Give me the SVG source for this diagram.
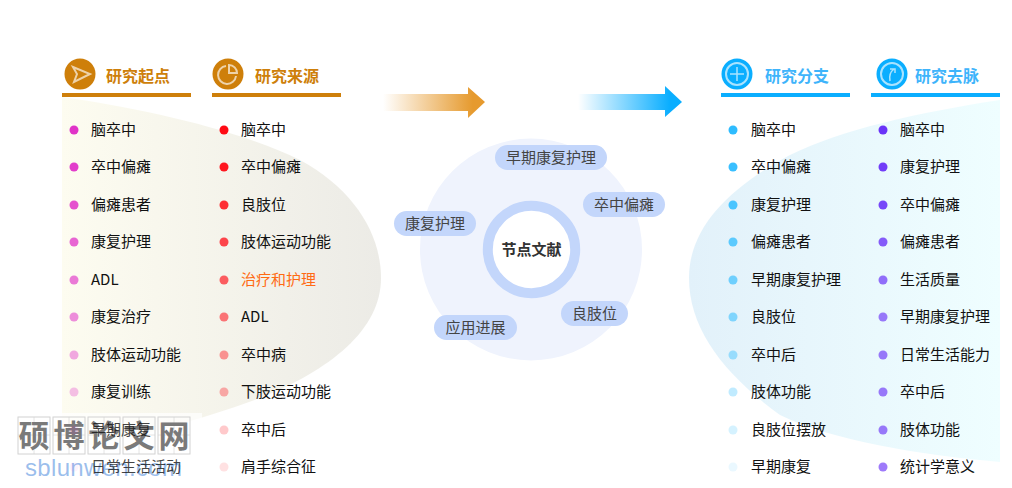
<svg xmlns="http://www.w3.org/2000/svg" width="1012" height="488" viewBox="0 0 1012 488">
<style>
text{font-family:"Noto Sans CJK SC","Liberation Sans",sans-serif}
.i{font-size:15px;fill:#111}
.f{fill-opacity:.8}
.h{font-size:16px;font-weight:700}
.o{fill:#ce7f0a}.b{fill:#3eb4fb}
.t{font-size:15px;fill:#444;text-anchor:middle}
.p{fill:#c3d6fb}
.ic{fill:none;stroke:#fff;stroke-opacity:.65;stroke-width:2}
.wb{fill:none;stroke:#d2d2d2;stroke-width:1}
.wt{font-size:31px;font-weight:700;fill:#7a7a7a;text-anchor:middle}
circle[r="4"]{r:4.500px}
</style>
<defs>
<linearGradient id="gl" x1="0" x2="1"><stop offset="0" stop-color="#fdfcf0"/><stop offset="1" stop-color="#ecebe6"/></linearGradient>
<linearGradient id="gr" x1="0" x2="1"><stop offset="0" stop-color="#e2f1fa"/><stop offset="1" stop-color="#effeff"/></linearGradient>
<linearGradient id="a1" x1="0" x2="1"><stop offset="0" stop-color="#e69a2e" stop-opacity="0"/><stop offset=".88" stop-color="#e69a2e"/></linearGradient>
<linearGradient id="a2" x1="0" x2="1"><stop offset="0" stop-color="#0aaeff" stop-opacity="0"/><stop offset=".88" stop-color="#0aaeff"/></linearGradient>
</defs>
<rect width="1012" height="488" fill="#fff"/>
<g id="backgrounds">
<path d="M62 97C140 108 240 130 300 160C355 190 381 235 381 278C381 330 330 370 260 398C200 420 130 440 62 450Z" fill="url(#gl)"/>
<path d="M1000 100C920 112 840 130 790 155C725 190 689 230 689 278C689 330 725 375 780 415C830 440 920 455 1000 462Z" fill="url(#gr)"/>
</g>
<g id="watermark">
<rect x="0" y="413" width="202" height="75" fill="#fff" fill-opacity=".7"/>
<rect x="18" y="417" width="32" height="37" class="wb"/><rect x="53" y="417" width="32" height="37" class="wb"/><rect x="88" y="417" width="32" height="37" class="wb"/><rect x="123" y="417" width="32" height="37" class="wb"/><rect x="158" y="417" width="32" height="37" class="wb"/>
<path class="wb" d="M18 435H50M34 417V454M53 435H85M69 417V454M88 435H120M104 417V454M123 435H155M139 417V454M158 435H190M174 417V454" stroke-opacity=".6"/>
<text x="34" y="447" class="wt">硕</text><text x="69" y="447" class="wt">博</text><text x="104" y="447" class="wt">论</text><text x="139" y="447" class="wt">文</text><text x="174" y="447" class="wt">网</text>
<text x="25" y="476" textLength="157" style="font-family:'Liberation Sans',sans-serif;font-size:24px;fill:#7aa9e6;fill-opacity:.75">sblunwen.com</text>
</g>
<g id="col-start">
<circle cx="80" cy="74" r="15.500" class="o"/>
<path class="ic" d="M73 67L90 74L74 82L77 74Z"/>
<text x="106" y="82" class="h o">研究起点</text>
<rect x="62" y="93" width="129" height="4" class="o"/>
<g fill="#e033c8">
<circle cx="74" cy="130" r="4"/><circle cx="74" cy="167" r="4" opacity=".95"/><circle cx="74" cy="205" r="4" opacity=".85"/><circle cx="74" cy="242" r="4" opacity=".75"/><circle cx="74" cy="280" r="4" opacity=".65"/><circle cx="74" cy="317" r="4" opacity=".55"/><circle cx="74" cy="355" r="4" opacity=".42"/><circle cx="74" cy="392" r="4" opacity=".3"/><circle cx="74" cy="430" r="4" opacity=".12"/><circle cx="74" cy="467" r="4" opacity=".06"/>
</g>
<text class="i" x="91" y="135">脑卒中</text><text class="i" x="91" y="172">卒中偏瘫</text><text class="i" x="91" y="210">偏瘫患者</text><text class="i" x="91" y="247">康复护理</text><text class="i" x="91" y="285">ADL</text><text class="i" x="91" y="322">康复治疗</text><text class="i" x="91" y="360">肢体运动功能</text><text class="i" x="91" y="397">康复训练</text><text class="i f" x="91" y="435">早期康复</text><text class="i f" x="91" y="472">日常生活活动</text>
</g>
<g id="col-source">
<circle cx="228" cy="74" r="15.500" class="o"/>
<path class="ic" d="M226 66A9 9 0 1 0 236 76M229 65A8 8 0 0 1 237 73L229 73Z"/>
<text x="255" y="82" class="h o">研究来源</text>
<rect x="212" y="93" width="129" height="4" class="o"/>
<g fill="#ff0a14">
<circle cx="224" cy="130" r="4"/><circle cx="224" cy="167" r="4" opacity=".95"/><circle cx="224" cy="205" r="4" opacity=".85"/><circle cx="224" cy="242" r="4" opacity=".75"/><circle cx="224" cy="280" r="4" opacity=".65"/><circle cx="224" cy="317" r="4" opacity=".55"/><circle cx="224" cy="355" r="4" opacity=".42"/><circle cx="224" cy="392" r="4" opacity=".33"/><circle cx="224" cy="430" r="4" opacity=".22"/><circle cx="224" cy="467" r="4" opacity=".12"/>
</g>
<text class="i" x="241" y="135">脑卒中</text><text class="i" x="241" y="172">卒中偏瘫</text><text class="i" x="241" y="210">良肢位</text><text class="i" x="241" y="247">肢体运动功能</text><text class="i" x="241" y="285" style="fill:#ff6a13">治疗和护理</text><text class="i" x="241" y="322">ADL</text><text class="i" x="241" y="360">卒中病</text><text class="i" x="241" y="397">下肢运动功能</text><text class="i" x="241" y="435">卒中后</text><text class="i" x="241" y="472">肩手综合征</text>
</g>
<g id="arrows">
<path d="M383 94H468V87L485 102L468 118V111H383Z" fill="url(#a1)"/>
<path d="M578 94H665V86L682 102L665 117V110H578Z" fill="url(#a2)"/>
</g>
<g id="center">
<circle cx="531" cy="249.500" r="111" fill="#eff3fd"/>
<circle cx="531.500" cy="249.500" r="43.700" fill="#fff" stroke="#c3d6fb" stroke-width="10"/>
<text x="531.500" y="255" style="font-size:15px;font-weight:700;fill:#333;text-anchor:middle">节点文献</text>
</g>
<g id="n1"><rect x="495" y="145" width="112" height="25" rx="12.500" class="p"/><text x="551" y="163" class="t">早期康复护理</text></g>
<g id="n2"><rect x="583" y="192" width="82" height="25" rx="12.500" class="p"/><text x="624" y="210" class="t">卒中偏瘫</text></g>
<g id="n3"><rect x="394" y="211" width="82" height="25" rx="12.500" class="p"/><text x="435" y="229" class="t">康复护理</text></g>
<g id="n4"><rect x="561" y="301" width="67" height="25" rx="12.500" class="p"/><text x="594.500" y="319" class="t">良肢位</text></g>
<g id="n5"><rect x="434" y="315" width="83" height="25" rx="12.500" class="p"/><text x="475.500" y="333" class="t">应用进展</text></g>
<g id="col-branch">
<circle cx="737" cy="74" r="15.500" style="fill:#0aaeff"/>
<circle cx="737" cy="74" r="11" class="ic"/><path class="ic" style="stroke-width:1.500" d="M737 67V81M730 74H744"/>
<text x="765" y="82" class="h b">研究分支</text>
<rect x="721" y="93" width="129" height="4" fill="#0aaeff"/>
<g fill="#2ebcff">
<circle cx="733" cy="130" r="4"/><circle cx="733" cy="167" r="4" opacity=".95"/><circle cx="733" cy="205" r="4" opacity=".85"/><circle cx="733" cy="242" r="4" opacity=".75"/><circle cx="733" cy="280" r="4" opacity=".65"/><circle cx="733" cy="317" r="4" opacity=".55"/><circle cx="733" cy="355" r="4" opacity=".42"/><circle cx="733" cy="392" r="4" opacity=".3"/><circle cx="733" cy="430" r="4" opacity=".2"/><circle cx="733" cy="467" r="4" opacity=".1"/>
</g>
<text class="i" x="751" y="135">脑卒中</text><text class="i" x="751" y="172">卒中偏瘫</text><text class="i" x="751" y="210">康复护理</text><text class="i" x="751" y="247">偏瘫患者</text><text class="i" x="751" y="285">早期康复护理</text><text class="i" x="751" y="322">良肢位</text><text class="i" x="751" y="360">卒中后</text><text class="i" x="751" y="397">肢体功能</text><text class="i" x="751" y="435">良肢位摆放</text><text class="i" x="751" y="472">早期康复</text>
</g>
<g id="col-direction">
<circle cx="892" cy="74" r="15.500" style="fill:#0aaeff"/>
<circle cx="892" cy="74" r="11" class="ic"/><path class="ic" style="stroke-width:1.500" d="M890 81C889 76 890 72 894 69M890 69H895V73"/>
<text x="915" y="82" class="h b">研究去脉</text>
<rect x="871" y="93" width="129" height="4" fill="#0aaeff"/>
<g fill="#6a33f8">
<circle cx="883" cy="130" r="4"/><circle cx="883" cy="167" r="4" opacity=".95"/><circle cx="883" cy="205" r="4" opacity=".9"/><circle cx="883" cy="242" r="4" opacity=".8"/><circle cx="883" cy="280" r="4" opacity=".7"/><circle cx="883" cy="317" r="4" opacity=".65"/><circle cx="883" cy="355" r="4" opacity=".65"/><circle cx="883" cy="392" r="4" opacity=".65"/><circle cx="883" cy="430" r="4" opacity=".65"/><circle cx="883" cy="467" r="4" opacity=".65"/>
</g>
<text class="i" x="900" y="135">脑卒中</text><text class="i" x="900" y="172">康复护理</text><text class="i" x="900" y="210">卒中偏瘫</text><text class="i" x="900" y="247">偏瘫患者</text><text class="i" x="900" y="285">生活质量</text><text class="i" x="900" y="322">早期康复护理</text><text class="i" x="900" y="360">日常生活能力</text><text class="i" x="900" y="397">卒中后</text><text class="i" x="900" y="435">肢体功能</text><text class="i" x="900" y="472">统计学意义</text>
</g>
</svg>
